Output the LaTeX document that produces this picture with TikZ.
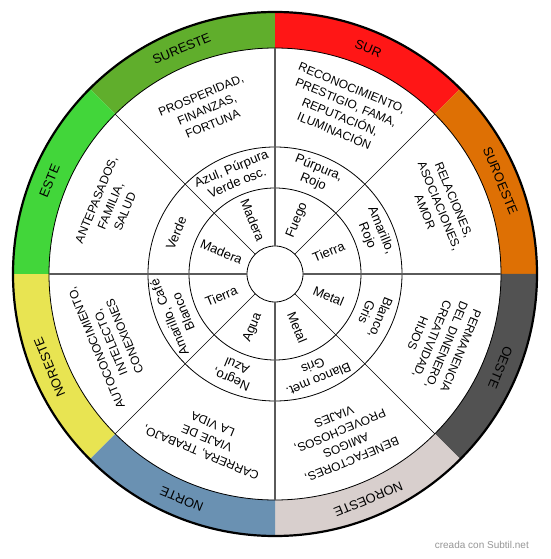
\documentclass[tikz,border=0pt]{standalone}
\usepackage{fontspec}
\setmainfont{Liberation Sans}
\definecolor{cSE}{RGB}{96,174,44}
\definecolor{cS}{RGB}{255,22,22}
\definecolor{cSO}{RGB}{222,112,4}
\definecolor{cO}{RGB}{82,82,82}
\definecolor{cNO}{RGB}{216,207,205}
\definecolor{cN}{RGB}{106,145,178}
\definecolor{cNE}{RGB}{232,228,82}
\definecolor{cE}{RGB}{66,214,58}
\definecolor{axisgray}{RGB}{90,90,90}
\definecolor{wmgray}{RGB}{150,150,150}
\tikzset{
  dirlabel/.style={font=\fontsize{13}{15}\selectfont, inner sep=0pt},
  asplabel/.style={font=\fontsize{12}{15.5}\selectfont, align=center, inner sep=0pt},
  collabel/.style={font=\fontsize{13}{15}\selectfont, align=center, inner sep=0pt},
  ellabel/.style={font=\fontsize{13}{15}\selectfont, inner sep=0pt},
  ringline/.style={line width=0.8pt, black},
  axisline/.style={line width=1.3pt, axisgray},
  diagline/.style={line width=0.7pt, black}
}
\begin{document}
\begin{tikzpicture}[x=1pt,y=1pt]
\useasboundingbox (-275,-285) rectangle (275,274);
\fill[white] (-275,-285) rectangle (275,274);
% coloured band
\foreach \a/\c in {90/cSE,45/cS,0/cSO,-45/cO,-90/cNO,-135/cN,-180/cNE,135/cE}{
  \fill[\c] (\a:262) arc[start angle=\a, end angle=\a+45, radius=262]
    -- (\a+45:226) arc[start angle=\a+45, end angle=\a, radius=226] -- cycle;
}
\draw[line width=2.2pt, black] (0,0) circle[radius=262];
\draw[ringline] (0,0) circle[radius=226];
\draw[ringline] (0,0) circle[radius=127];
\draw[ringline] (0,0) circle[radius=86];
\draw[ringline] (0,0) circle[radius=28];
% radial lines
\foreach \a [count=\i] in {0,90,180,270}{
  \coordinate (ai\i) at (\a:28);
  \coordinate (ao\i) at (\a:226);
  \draw[axisline] (ai\i) -- (ao\i);
}
\foreach \a [count=\i] in {45,135,225,315}{
  \coordinate (di\i) at (\a:28);
  \coordinate (do\i) at (\a:226);
  \draw[diagline] (di\i) -- (do\i);
}
% labels
\foreach \a/\d/\asp/\col/\el/\er [count=\i] in {
  112.5/SURESTE/{PROSPERIDAD,\\FINANZAS,\\FORTUNA}/{Azul, Púrpura\\Verde osc.}/Madera/-67.5,
  67.5/SUR/{RECONOCIMIENTO,\\PRESTIGIO, FAMA,\\REPUTACIÓN,\\ILUMINACIÓN}/{Púrpura,\\Rojo}/Fuego/67.5,
  22.5/SUROESTE/{RELACIONES,\\ASOCIACIONES,\\AMOR}/{Amarillo,\\Rojo}/Tierra/22.5,
  -22.5/OESTE/{PERMANENCIA\\DEL DINENERO,\\CREATIVIDAD,\\HIJOS}/{Blanco,\\Gris}/Metal/-22.5,
  -67.5/NOROESTE/{BENEFACTORES,\\AMIGOS\\PROVECHOSOS,\\VIAJES}/{Blanco met.\\Gris}/Metal/-67.5,
  -112.5/NORTE/{CARRERA, TRABAJO,\\VIAJE DE\\LA VIDA}/{Negro,\\Azul}/Agua/67.5,
  -157.5/NORESTE/{AUTOCONOCIMIENTO,\\INTELECTO,\\CONEXIONES}/{Amarillo, Café\\Blanco}/Tierra/22.5,
  157.5/ESTE/{ANTEPASADOS,\\FAMILIA,\\SALUD}/{Verde}/Madera/-22.5}{
  \node[dirlabel, rotate=\a-90] (dir\i) at (\a:244) {\d};
  \node[asplabel, rotate=\a-90] (asp\i) at (\a:178) {\asp};
  \node[collabel, rotate=\a-90] (col\i) at (\a:107) {\col};
  \node[ellabel, rotate=\er] (el\i) at (\a:58) {\el};
}
\node[font=\fontsize{10}{12}\selectfont, text=wmgray, anchor=east, inner sep=0pt] (wm) at (254,-271) {creada con Subtil.net};
\end{tikzpicture}
\end{document}
